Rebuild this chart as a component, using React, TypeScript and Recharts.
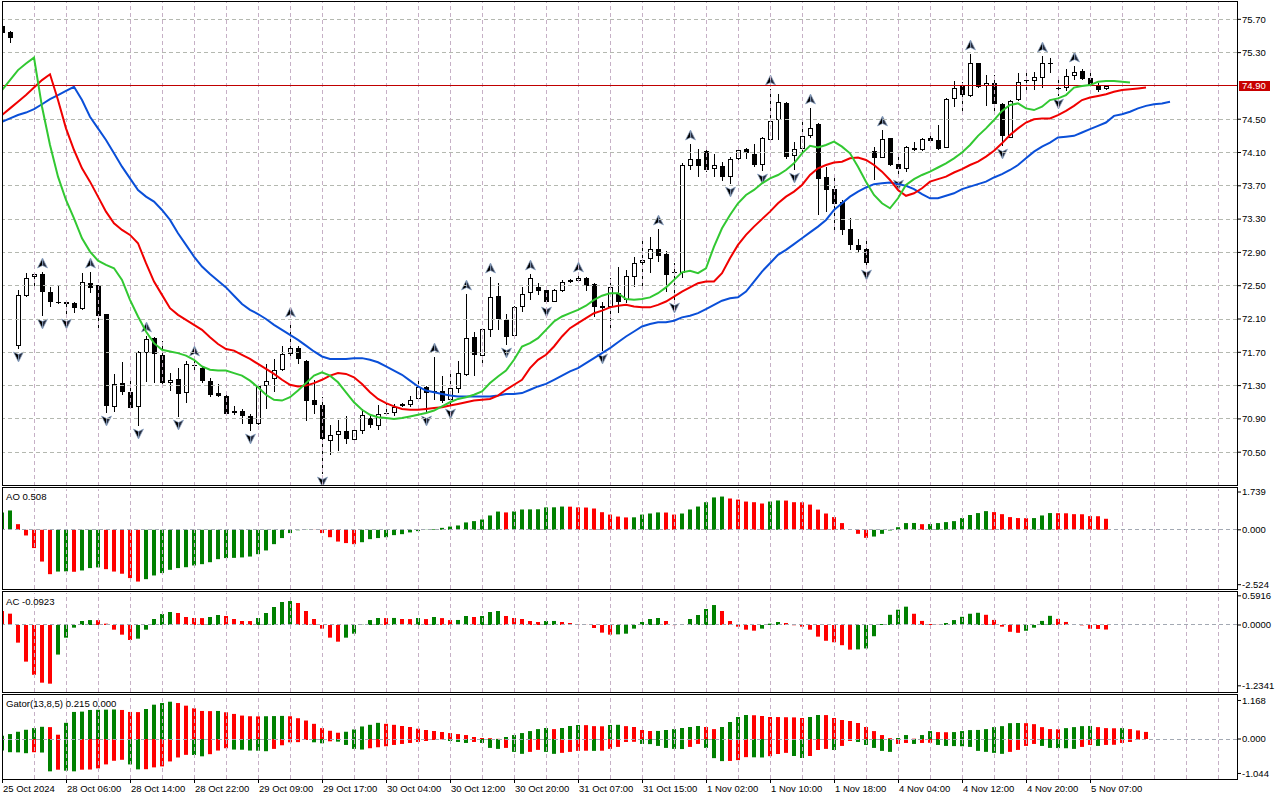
import { ComposedChart, Bar, Line, XAxis, YAxis, ReferenceLine, Cell } from 'recharts';

// hourly candles, index = bar number from the left edge
const OPEN = [75.62, 75.55, 71.77, 72.38, 72.60, 72.64, 72.42, 72.30, 72.30, 72.29,
  72.22, 72.53, 72.51, 72.16, 71.04, 71.33, 71.22, 71.04, 71.69, 71.87,
  71.67, 71.33, 71.38, 71.21, 71.55, 71.51, 71.35, 71.21, 71.18, 70.99,
  70.99, 70.94, 70.84, 71.29, 71.38, 71.49, 71.68, 71.75, 71.60, 71.13,
  71.07, 70.64, 70.71, 70.75, 70.65, 70.76, 70.91, 70.81, 70.96, 70.97,
  71.05, 71.07, 71.14, 71.28, 71.22, 71.24, 71.13, 71.26, 71.43, 71.88,
  71.66, 71.97, 72.38, 72.09, 71.89, 72.24, 72.41, 72.48, 72.45, 72.31,
  72.44, 72.54, 72.56, 72.59, 72.52, 72.26, 72.24, 72.41, 72.33, 72.61,
  72.77, 72.82, 72.94, 72.88, 72.66, 72.65, 73.94, 74.02, 74.12, 73.90,
  73.94, 73.81, 74.02, 74.14, 74.08, 73.95, 74.25, 74.49, 74.70, 74.06,
  74.14, 74.30, 74.44, 73.80, 73.66, 73.51, 73.18, 72.99, 72.94, 74.12,
  74.04, 74.27, 73.96, 73.90, 74.16, 74.13, 74.27, 74.25, 74.16, 74.74,
  74.90, 74.78, 75.17, 74.90, 74.93, 74.68, 74.28, 74.73, 74.97, 74.96,
  75.00, 75.16, 74.88, 74.87, 75.02, 75.08, 74.99, 74.91, 74.86];
const HIGH = [75.64, 75.56, 72.45, 72.65, 72.65, 72.66, 72.48, 72.50, 72.31, 72.31,
  72.65, 72.66, 72.51, 72.16, 71.44, 71.58, 71.38, 71.72, 71.89, 71.88,
  71.83, 71.45, 71.51, 71.60, 71.61, 71.53, 71.39, 71.32, 71.19, 71.05,
  71.02, 70.96, 71.32, 71.56, 71.62, 71.77, 72.08, 71.77, 71.61, 71.37,
  71.16, 70.83, 70.89, 70.93, 70.79, 71.02, 70.96, 71.07, 71.09, 71.08,
  71.09, 71.18, 71.35, 71.30, 71.64, 71.41, 71.44, 71.59, 72.40, 71.94,
  71.99, 72.60, 72.53, 72.16, 72.26, 72.48, 72.64, 72.53, 72.46, 72.46,
  72.57, 72.58, 72.62, 72.60, 72.53, 72.30, 72.59, 72.73, 72.69, 72.84,
  73.07, 73.09, 73.18, 72.92, 72.77, 73.97, 74.20, 74.14, 74.14, 74.08,
  73.99, 74.05, 74.16, 74.15, 74.20, 74.29, 74.86, 74.80, 74.71, 74.23,
  74.50, 74.63, 74.46, 73.92, 73.81, 73.53, 73.31, 73.06, 73.06, 74.17,
  74.37, 74.28, 74.08, 74.18, 74.23, 74.27, 74.35, 74.43, 74.75, 74.96,
  74.95, 75.28, 75.18, 75.03, 75.03, 74.69, 74.73, 75.06, 75.06, 75.07,
  75.26, 75.23, 74.97, 75.10, 75.14, 75.10, 75.05, 74.93, 74.91];
const LOW = [75.52, 75.41, 71.74, 72.37, 72.47, 72.14, 72.24, 72.28, 72.14, 72.17,
  72.21, 72.41, 71.99, 70.97, 70.98, 71.19, 71.02, 70.81, 71.34, 71.33,
  71.28, 71.23, 70.92, 71.09, 71.49, 71.33, 71.16, 71.16, 70.95, 70.95,
  70.84, 70.75, 70.83, 71.02, 71.22, 71.48, 71.63, 71.56, 70.88, 70.96,
  70.24, 70.47, 70.51, 70.60, 70.60, 70.72, 70.79, 70.77, 70.94, 70.94,
  71.04, 71.04, 71.10, 70.97, 71.13, 71.09, 71.06, 71.21, 71.41, 71.41,
  71.53, 71.88, 71.97, 71.79, 71.88, 72.18, 72.33, 72.39, 72.28, 72.30,
  72.43, 72.53, 72.55, 72.44, 72.12, 71.71, 71.99, 72.17, 72.29, 72.49,
  72.49, 72.65, 72.79, 72.43, 72.33, 72.59, 73.89, 73.81, 73.86, 73.81,
  73.76, 73.72, 74.01, 74.02, 73.92, 73.88, 74.24, 74.25, 74.02, 73.89,
  74.11, 74.27, 73.35, 73.39, 73.17, 73.11, 72.93, 72.90, 72.72, 73.77,
  74.03, 73.94, 73.81, 73.86, 74.115, 74.12, 74.23, 74.135, 74.15, 74.65,
  74.55, 74.77, 74.87, 74.66, 74.59, 74.18, 74.27, 74.72, 74.81, 74.85,
  74.88, 75.06, 74.78, 74.84, 74.97, 74.97, 74.90, 74.83, 74.855];
const CLOSE = [75.54, 75.48, 72.39, 72.59, 72.64, 72.43, 72.30, 72.29, 72.28, 72.23,
  72.54, 72.47, 72.14, 71.05, 71.32, 71.22, 71.03, 71.70, 71.86, 71.68,
  71.33, 71.37, 71.20, 71.56, 71.55, 71.35, 71.19, 71.17, 70.96, 70.97,
  70.93, 70.84, 71.30, 71.36, 71.49, 71.68, 71.75, 71.62, 71.12, 71.07,
  70.66, 70.71, 70.75, 70.66, 70.77, 70.95, 70.83, 70.96, 70.97, 71.04,
  71.08, 71.13, 71.28, 71.21, 71.24, 71.12, 71.27, 71.45, 71.87, 71.67,
  71.98, 72.36, 72.10, 71.88, 72.24, 72.40, 72.59, 72.44, 72.30, 72.45,
  72.54, 72.57, 72.59, 72.50, 72.25, 72.23, 72.48, 72.30, 72.62, 72.77,
  72.81, 72.94, 72.86, 72.63, 72.67, 73.95, 74.02, 73.94, 73.89, 73.95,
  73.81, 74.02, 74.13, 74.09, 73.95, 74.27, 74.48, 74.71, 74.05, 74.14,
  74.30, 74.40, 73.78, 73.65, 73.48, 73.17, 72.99, 72.93, 72.77, 74.03,
  74.26, 73.95, 73.90, 74.17, 74.125, 74.26, 74.24, 74.14, 74.74, 74.88,
  74.79, 75.17, 74.89, 74.94, 74.68, 74.30, 74.72, 74.95, 74.975, 75.01,
  75.18, 75.17, 74.87, 75.02, 75.07, 74.98, 74.91, 74.85, 74.90];

// Alligator (jaw 13/8, teeth 8/5, lips 5/3), drawn with their forward shift
const JAW = [74.47, 74.51, 74.55, 74.58, 74.62, 74.68, 74.74, 74.79, 74.84, 74.89,
  74.73, 74.53, 74.39, 74.25, 74.09, 73.93, 73.79, 73.65, 73.57, 73.51,
  73.41, 73.29, 73.13, 72.99, 72.85, 72.73, 72.64, 72.56, 72.48, 72.38,
  72.28, 72.21, 72.16, 72.10, 72.03, 71.97, 71.91, 71.85, 71.78, 71.71,
  71.65, 71.62, 71.62, 71.62, 71.63, 71.63, 71.61, 71.58, 71.53, 71.48,
  71.43, 71.36, 71.29, 71.24, 71.22, 71.20, 71.18, 71.17, 71.17, 71.17,
  71.17, 71.17, 71.18, 71.20, 71.20, 71.21, 71.25, 71.29, 71.32, 71.37,
  71.42, 71.47, 71.51, 71.57, 71.63, 71.69, 71.75, 71.82, 71.89, 71.95,
  72.01, 72.04, 72.06, 72.06, 72.08, 72.12, 72.14, 72.17, 72.22, 72.27,
  72.32, 72.35, 72.36, 72.43, 72.55, 72.67, 72.77, 72.87, 72.93, 73.00,
  73.07, 73.14, 73.21, 73.29, 73.41, 73.49, 73.57, 73.63, 73.68, 73.72,
  73.73, 73.74, 73.72, 73.70, 73.66, 73.60, 73.55, 73.55, 73.58, 73.61,
  73.66, 73.69, 73.72, 73.75, 73.80, 73.84, 73.89, 73.95, 74.03, 74.11,
  74.17, 74.22, 74.28, 74.29, 74.30, 74.34, 74.38, 74.42, 74.46, 74.54,
  74.56, 74.59, 74.63, 74.66, 74.68, 74.69, 74.71];
const TEETH = [74.55, 74.63, 74.71, 74.79, 74.88, 74.97, 75.04, 74.73, 74.39, 74.13,
  73.91, 73.75, 73.57, 73.39, 73.25, 73.17, 73.11, 73.01, 72.77, 72.55,
  72.39, 72.23, 72.15, 72.09, 72.03, 71.97, 71.88, 71.80, 71.74, 71.72,
  71.67, 71.62, 71.56, 71.50, 71.44, 71.37, 71.31, 71.29, 71.30, 71.33,
  71.37, 71.42, 71.45, 71.44, 71.40, 71.32, 71.22, 71.14, 71.09, 71.05,
  71.02, 71.01, 71.01, 71.02, 71.03, 71.04, 71.06, 71.08, 71.10, 71.12,
  71.13, 71.14, 71.18, 71.25, 71.31, 71.37, 71.51, 71.61, 71.67, 71.77,
  71.89, 71.99, 72.05, 72.11, 72.17, 72.20, 72.24, 72.26, 72.27, 72.25,
  72.24, 72.24, 72.27, 72.31, 72.37, 72.43, 72.48, 72.53, 72.55, 72.55,
  72.65, 72.83, 72.99, 73.11, 73.21, 73.30, 73.39, 73.49, 73.57, 73.63,
  73.71, 73.83, 73.91, 73.95, 73.98, 73.99, 74.03, 74.04, 74.01, 73.95,
  73.87, 73.77, 73.65, 73.58, 73.61, 73.67, 73.75, 73.78, 73.81, 73.86,
  73.90, 73.95, 73.99, 74.05, 74.12, 74.21, 74.31, 74.39, 74.46, 74.50,
  74.51, 74.51, 74.55, 74.60, 74.66, 74.73, 74.76, 74.78, 74.80, 74.83,
  74.85, 74.86, 74.87, 74.88];
const LIPS = [74.85, 74.97, 75.09, 75.17, 75.24, 74.65, 74.19, 73.81, 73.53, 73.31,
  73.07, 72.91, 72.80, 72.75, 72.71, 72.57, 72.33, 72.13, 71.95, 71.81,
  71.73, 71.71, 71.69, 71.66, 71.61, 71.53, 71.49, 71.48, 71.48, 71.45,
  71.42, 71.36, 71.28, 71.19, 71.13, 71.12, 71.16, 71.24, 71.33, 71.42,
  71.46, 71.42, 71.34, 71.22, 71.10, 71.01, 70.95, 70.92, 70.91, 70.90,
  70.91, 70.93, 70.95, 70.97, 71.00, 71.05, 71.10, 71.14, 71.16, 71.19,
  71.23, 71.33, 71.41, 71.48, 71.61, 71.77, 71.81, 71.87, 71.97, 72.07,
  72.13, 72.17, 72.21, 72.26, 72.33, 72.38, 72.41, 72.41, 72.34, 72.33,
  72.34, 72.36, 72.41, 72.48, 72.57, 72.66, 72.68, 72.65, 72.71, 72.97,
  73.19, 73.35, 73.49, 73.59, 73.65, 73.73, 73.79, 73.83, 73.89, 73.97,
  74.09, 74.18, 74.16, 74.19, 74.23, 74.17, 74.09, 73.93, 73.75, 73.59,
  73.49, 73.43, 73.55, 73.71, 73.78, 73.83, 73.87, 73.92, 73.97, 74.03,
  74.10, 74.19, 74.30, 74.39, 74.49, 74.60, 74.67, 74.69, 74.63, 74.61,
  74.65, 74.73, 74.75, 74.79, 74.88, 74.90, 74.91, 74.95, 74.96, 74.96,
  74.95, 74.94];

const UP_FRACTALS = [5, 11, 18, 24, 36, 54, 58, 61, 66, 72, 82, 86, 96, 101, 110, 121, 130, 134];
const DOWN_FRACTALS = [2, 5, 8, 13, 17, 22, 31, 40, 53, 56, 63, 68, 75, 84, 91, 95, 99, 108, 112, 125, 132];

const AO = [0.80, 0.89, 0.26, -0.26, -0.84, -1.46, -2.04, -1.92, -1.91, -1.93,
  -1.87, -1.76, -1.73, -1.81, -1.92, -2.02, -2.22, -2.38, -2.27, -2.10,
  -1.99, -1.84, -1.76, -1.72, -1.64, -1.58, -1.49, -1.35, -1.30, -1.29,
  -1.27, -1.23, -1.12, -0.95, -0.66, -0.38, -0.15, -0.02, 0.01, 0.005,
  -0.15, -0.34, -0.54, -0.61, -0.66, -0.57, -0.43, -0.38, -0.34, -0.245,
  -0.20, -0.12, -0.06, -0.01, 0.03, 0.09, 0.15, 0.20, 0.34, 0.40,
  0.475, 0.66, 0.84, 0.80, 0.845, 0.935, 0.94, 0.945, 1.03, 1.035,
  1.07, 1.065, 1.03, 1.025, 0.98, 0.81, 0.70, 0.61, 0.57, 0.575,
  0.70, 0.75, 0.80, 0.795, 0.70, 0.75, 0.935, 1.07, 1.27, 1.49,
  1.53, 1.44, 1.39, 1.30, 1.27, 1.21, 1.30, 1.35, 1.345, 1.27,
  1.265, 1.16, 0.93, 0.75, 0.585, 0.31, 0.03, -0.185, -0.37, -0.31,
  -0.185, -0.03, 0.12, 0.31, 0.315, 0.26, 0.265, 0.31, 0.355, 0.40,
  0.54, 0.68, 0.77, 0.86, 0.815, 0.72, 0.585, 0.54, 0.535, 0.54,
  0.66, 0.77, 0.765, 0.76, 0.72, 0.715, 0.63, 0.625, 0.508];
const AC = [0.284, 0.23, -0.358, -0.743, -1.01, -1.17, -1.19, -0.60, -0.257, -0.054,
  0.081, 0.10, 0.098, 0.027, -0.095, -0.196, -0.304, -0.277, -0.095, 0.122,
  0.223, 0.264, 0.243, 0.162, 0.142, 0.140, 0.162, 0.203, 0.182, 0.122,
  0.081, 0.080, 0.142, 0.243, 0.365, 0.466, 0.486, 0.446, 0.284, 0.122,
  -0.074, -0.257, -0.338, -0.257, -0.176, 0.005, 0.10, 0.142, 0.140, 0.143,
  0.122, 0.12, 0.142, 0.12, 0.162, 0.14, 0.10, 0.102, 0.182, 0.162,
  0.183, 0.264, 0.284, 0.182, 0.142, 0.122, 0.081, 0.061, 0.081, 0.082,
  0.061, 0.04, 0.007, 0.002, -0.061, -0.155, -0.196, -0.19, -0.176, -0.074,
  0.061, 0.122, 0.142, 0.081, -0.003, 0.005, 0.122, 0.203, 0.324, 0.405,
  0.284, 0.081, -0.034, -0.095, -0.115, -0.074, 0.027, 0.061, 0.04, -0.005,
  -0.034, -0.095, -0.236, -0.32, -0.35, -0.41, -0.50, -0.495, -0.476, -0.228,
  0.02, 0.207, 0.31, 0.372, 0.228, 0.083, 0.02, 0.003, 0.04, 0.10,
  0.166, 0.228, 0.248, 0.207, 0.103, -0.034, -0.138, -0.159, -0.117, -0.055,
  0.083, 0.186, 0.124, 0.062, 0.0, -0.007, -0.076, -0.08, -0.0923];
const GATOR_UP = [0.10, 0.15, 0.22, 0.28, 0.33, 0.37, 0.36, 0.13, 0.49, 0.82,
  0.83, 0.88, 0.885, 0.89, 0.895, 0.88, 0.82, 0.815, 0.91, 1.04,
  1.09, 1.13, 1.09, 1.01, 0.93, 0.85, 0.845, 0.85, 0.81, 0.76,
  0.71, 0.69, 0.685, 0.69, 0.695, 0.70, 0.69, 0.63, 0.56, 0.46,
  0.33, 0.25, 0.19, 0.22, 0.29, 0.38, 0.43, 0.49, 0.46, 0.43,
  0.394, 0.364, 0.313, 0.273, 0.242, 0.212, 0.18, 0.15, 0.12, 0.06,
  0.03, 0.025, 0.005, 0.06, 0.12, 0.18, 0.24, 0.30, 0.333, 0.30,
  0.333, 0.394, 0.424, 0.42, 0.39, 0.385, 0.424, 0.43, 0.39, 0.364,
  0.273, 0.242, 0.245, 0.273, 0.30, 0.333, 0.364, 0.394, 0.364, 0.30,
  0.364, 0.515, 0.667, 0.727, 0.72, 0.697, 0.667, 0.665, 0.66, 0.655,
  0.636, 0.667, 0.727, 0.725, 0.636, 0.576, 0.545, 0.485, 0.364, 0.24,
  0.12, 0.025, 0.03, 0.12, 0.01, 0.12, 0.24, 0.21, 0.205, 0.21,
  0.24, 0.27, 0.275, 0.30, 0.36, 0.39, 0.48, 0.485, 0.48, 0.45,
  0.36, 0.30, 0.295, 0.33, 0.36, 0.39, 0.395, 0.36, 0.33, 0.325,
  0.33, 0.30, 0.26, 0.215];
const GATOR_DOWN = [0.35, 0.40, 0.405, 0.43, 0.40, 0.41, 0.98, 0.93, 0.96, 0.98,
  0.93, 0.925, 0.89, 0.77, 0.66, 0.63, 0.77, 0.92, 0.915, 0.86,
  0.83, 0.68, 0.56, 0.48, 0.485, 0.525, 0.46, 0.35, 0.28, 0.32,
  0.325, 0.35, 0.355, 0.37, 0.30, 0.19, 0.10, 0.095, 0.03, 0.10,
  0.13, 0.07, 0.08, 0.18, 0.30, 0.32, 0.28, 0.25, 0.22, 0.18,
  0.15, 0.12, 0.09, 0.06, 0.03, 0.01, 0.06, 0.09, 0.12, 0.09,
  0.12, 0.27, 0.30, 0.27, 0.39, 0.45, 0.39, 0.33, 0.39, 0.45,
  0.42, 0.39, 0.36, 0.355, 0.36, 0.355, 0.30, 0.24, 0.09, 0.085,
  0.15, 0.155, 0.21, 0.27, 0.30, 0.305, 0.24, 0.15, 0.27, 0.58,
  0.67, 0.665, 0.64, 0.55, 0.555, 0.56, 0.52, 0.455, 0.42, 0.515,
  0.576, 0.515, 0.333, 0.30, 0.333, 0.21, 0.06, 0.09, 0.18, 0.27,
  0.36, 0.39, 0.15, 0.12, 0.15, 0.12, 0.115, 0.18, 0.21, 0.215,
  0.22, 0.24, 0.36, 0.39, 0.42, 0.45, 0.39, 0.33, 0.21, 0.15,
  0.21, 0.27, 0.275, 0.28, 0.30, 0.24, 0.18, 0.21, 0.18, 0.175,
  0.12, 0.09, 0.02];
// values of the bar just left of the visible window (sets first bar colour)
const AO_PREV = 0.75;
const AC_PREV = 0.35;
const GATOR_UP_PREV = 0.08;
const GATOR_DOWN_PREV = 0.33;

const TIME_LABELS = ['25 Oct 2024', '28 Oct 06:00', '28 Oct 14:00', '28 Oct 22:00', '29 Oct 09:00',
  '29 Oct 17:00', '30 Oct 04:00', '30 Oct 12:00', '30 Oct 20:00', '31 Oct 07:00', '31 Oct 15:00',
  '1 Nov 02:00', '1 Nov 10:00', '1 Nov 18:00', '4 Nov 04:00', '4 Nov 12:00', '4 Nov 20:00', '5 Nov 07:00'];
const PRICE_TICKS = [75.7, 75.3, 74.5, 74.1, 73.7, 73.3, 72.9, 72.5, 72.1, 71.7, 71.3, 70.9, 70.5];
const GRID_PRICES = [75.7, 75.3, 74.9, 74.5, 74.1, 73.7, 73.3, 72.9, 72.5, 72.1, 71.7, 71.3, 70.9, 70.5];
const LAST_PRICE = 74.9;
const AO_TICKS = [1.739, 0, -2.524];
const AC_TICKS = [0.5916, 0, -1.2341];
const GATOR_TICKS = [1.168, 0, -1.044];

const FONT = '"Liberation Sans", Arial, sans-serif';
const GREEN = '#008000';
const RED = '#ff0000';
const GRID = '#c6b0c6';
const X_DOMAIN: [number, number] = [0, 154.375];
const BARS_PER_LABEL = 8;
const LABEL_BARS = TIME_LABELS.map((_, k) => k * BARS_PER_LABEL);
const GRID_BARS = Array.from({ length: 38 }, (_, k) => (k + 1) * 4);
const PAD = 8; // room above each indicator plot for its top axis label

const UP_SET = new Set(UP_FRACTALS);
const DOWN_SET = new Set(DOWN_FRACTALS);

const priceRows = JAW.map((jaw, i) => ({
  i,
  o: i < OPEN.length ? OPEN[i] : null,
  h: i < HIGH.length ? HIGH[i] : null,
  l: i < LOW.length ? LOW[i] : null,
  c: i < CLOSE.length ? CLOSE[i] : null,
  jaw,
  teeth: i < TEETH.length ? TEETH[i] : null,
  lips: i < LIPS.length ? LIPS[i] : null,
}));

const indRows = GATOR_UP.map((gu, i) => ({
  i,
  ao: i < AO.length ? AO[i] : null,
  ac: i < AC.length ? AC[i] : null,
  gu,
  gd: i < GATOR_DOWN.length ? -GATOR_DOWN[i] : null,
}));

const rising = (vals: number[], prev: number, i: number) => (vals[i] > (i === 0 ? prev : vals[i - 1]) ? GREEN : RED);

const candleRange = (d: any) => (d.h == null ? null : [d.l, d.h]);

function CandleShape(props: any) {
  const { x, y, width, height, payload } = props;
  if (!payload || payload.h == null) return <g />;
  const y0 = Math.min(y, y + height);
  const y1 = Math.max(y, y + height);
  const k = (y1 - y0) / (payload.h - payload.l);
  const py = (p: number) => y0 + (payload.h - p) * k;
  const cx = Math.round(x + width / 2) + 0.5;
  const top = Math.round(py(Math.max(payload.o, payload.c)));
  const bot = Math.round(py(Math.min(payload.o, payload.c)));
  const bull = payload.c > payload.o;
  const bh = bot - top;
  let body;
  if (bh <= 1) {
    body = <line x1={cx - 2.5} x2={cx + 2.5} y1={top + 0.5} y2={top + 0.5} stroke="#000" />;
  } else if (bull) {
    body = <rect x={cx - 2} y={top + 0.5} width={4} height={bh - 1} fill="#fff" stroke="#000" />;
  } else {
    body = <rect x={cx - 2.5} y={top} width={5} height={bh} fill="#000" />;
  }
  const hy = Math.round(y0);
  const ly = Math.round(y1);
  return (
    <g>
      <g shapeRendering="crispEdges">
        <line x1={cx} x2={cx} y1={hy} y2={ly} stroke="#000" />
        {body}
      </g>
      {UP_SET.has(payload.i) && (
        <g stroke="#8ea6c8" strokeWidth={0.7}>
          <path d={`M${cx},${hy - 14} L${cx + 5},${hy - 4} L${cx},${hy - 6.5} Z`} fill="#2a3040" />
          <path d={`M${cx},${hy - 14} L${cx - 5},${hy - 4} L${cx},${hy - 6.5} Z`} fill="#000" />
        </g>
      )}
      {DOWN_SET.has(payload.i) && (
        <g stroke="#8ea6c8" strokeWidth={0.7}>
          <path d={`M${cx},${ly + 13} L${cx + 5},${ly + 3} L${cx},${ly + 5.5} Z`} fill="#2a3040" />
          <path d={`M${cx},${ly + 13} L${cx - 5},${ly + 3} L${cx},${ly + 5.5} Z`} fill="#000" />
        </g>
      )}
    </g>
  );
}

function PriceTag(props: any) {
  const vb = props.viewBox || {};
  const x = vb.x + vb.width;
  const y = vb.y;
  return (
    <g>
      <rect x={x + 2} y={y - 5} width={31} height={10} fill="#c80000" shapeRendering="crispEdges" />
      <text x={x + 5} y={y + 3.5} fill="#fff" fontSize={9.5} fontFamily={FONT}>{LAST_PRICE.toFixed(2)}</text>
    </g>
  );
}

function TimeTick(props: any) {
  const { x, y, payload } = props;
  const label = TIME_LABELS[LABEL_BARS.indexOf(payload.value)];
  const tx = Math.round(x) + 0.5;
  return (
    <g>
      <line x1={tx} x2={tx} y1={y} y2={y + 4} stroke="#000" shapeRendering="crispEdges" />
      <text x={tx + 0.5} y={y + 13} fontSize={9.5} fontFamily={FONT} fill="#000">{label}</text>
    </g>
  );
}

const tickStyle = { fontSize: 9.5, fill: '#000', fontFamily: FONT };

function vGrid(prefix: string) {
  return GRID_BARS.map((b) => (
    <ReferenceLine key={prefix + b} x={b} stroke={GRID} strokeDasharray="4 3" shapeRendering="crispEdges" />
  ));
}

function IndicatorPanel({ top, height, domain, ticks, digits, children, showTime, stack }: any) {
  return (
    <div style={{ position: 'absolute', left: 0, top: top - PAD }}>
      <ComposedChart width={1280} height={height + PAD} data={indRows} margin={{ top: PAD, right: 0, bottom: 0, left: 2 }}
        stackOffset={stack ? 'sign' : undefined}>
        {showTime ? (
          <XAxis dataKey="i" type="number" domain={X_DOMAIN} allowDataOverflow ticks={LABEL_BARS} interval={0}
            height={17} tickSize={0} tickMargin={0} axisLine={false} tickLine={false} tick={<TimeTick />} />
        ) : (
          <XAxis dataKey="i" type="number" domain={X_DOMAIN} allowDataOverflow hide />
        )}
        <YAxis orientation="right" type="number" domain={domain} allowDataOverflow ticks={ticks} interval={0}
          width={43} tickSize={4} tickMargin={1} axisLine={false} tickLine={{ stroke: '#000' }}
          tick={tickStyle} tickFormatter={(v: number) => v.toFixed(digits)} />
        {vGrid('v')}
        <ReferenceLine y={0} stroke="#a3a9b3" strokeDasharray="4 3" shapeRendering="crispEdges" />
        {children}
      </ComposedChart>
    </div>
  );
}

export default function App() {
  return (
    <div style={{ position: 'absolute', left: 0, top: 0, width: 1280, height: 800, background: '#fff', fontFamily: FONT }}>
      <div style={{ position: 'absolute', left: 0, top: 1 }}>
        <ComposedChart width={1280} height={485} data={priceRows} margin={{ top: 0, right: 0, bottom: 0, left: 2 }}>
          <XAxis dataKey="i" type="number" domain={X_DOMAIN} allowDataOverflow hide />
          <YAxis orientation="right" type="number" domain={[70.094, 75.92]} allowDataOverflow ticks={PRICE_TICKS}
            interval={0} width={43} tickSize={4} tickMargin={1} axisLine={false} tickLine={{ stroke: '#000' }}
            tick={tickStyle} tickFormatter={(v: number) => v.toFixed(2)} />
          {GRID_PRICES.map((p) => (
            <ReferenceLine key={'h' + p} y={p} stroke="#b4b8b0" strokeDasharray="4 3" shapeRendering="crispEdges" />
          ))}
          {vGrid('v')}
          <ReferenceLine y={LAST_PRICE} stroke="#c00000" shapeRendering="crispEdges" label={<PriceTag />} />
          <Bar dataKey={candleRange} barSize={6} shape={CandleShape} isAnimationActive={false} />
          <Line dataKey="jaw" type="linear" stroke="#0a4fd8" strokeWidth={2} dot={false} activeDot={false} isAnimationActive={false} />
          <Line dataKey="teeth" type="linear" stroke="#f00000" strokeWidth={2} dot={false} activeDot={false} isAnimationActive={false} />
          <Line dataKey="lips" type="linear" stroke="#32c832" strokeWidth={2} dot={false} activeDot={false} isAnimationActive={false} />
        </ComposedChart>
      </div>

      <IndicatorPanel top={489} height={100} domain={[-2.722, 1.877]} ticks={AO_TICKS} digits={3}>
        <Bar dataKey="ao" barSize={4} isAnimationActive={false}>
          {indRows.map((r) => <Cell key={r.i} fill={r.ao == null ? 'none' : rising(AO, AO_PREV, r.i)} />)}
        </Bar>
      </IndicatorPanel>

      <IndicatorPanel top={593} height={99} domain={[-1.359, 0.649]} ticks={AC_TICKS} digits={4}>
        <Bar dataKey="ac" barSize={4} isAnimationActive={false}>
          {indRows.map((r) => <Cell key={r.i} fill={r.ac == null ? 'none' : rising(AC, AC_PREV, r.i)} />)}
        </Bar>
      </IndicatorPanel>

      <IndicatorPanel top={696} height={100} domain={[-1.212, 1.303]} ticks={GATOR_TICKS} digits={3} showTime stack>
        <Bar dataKey="gu" stackId="g" barSize={4} isAnimationActive={false}>
          {indRows.map((r) => <Cell key={r.i} fill={rising(GATOR_UP, GATOR_UP_PREV, r.i)} />)}
        </Bar>
        <Bar dataKey="gd" stackId="g" barSize={4} isAnimationActive={false}>
          {indRows.map((r) => <Cell key={r.i} fill={r.gd == null ? 'none' : rising(GATOR_DOWN, GATOR_DOWN_PREV, r.i)} />)}
        </Bar>
      </IndicatorPanel>

      <svg width={1280} height={800} style={{ position: 'absolute', left: 0, top: 0, pointerEvents: 'none' }}>
        <g fill="none" stroke="#000" shapeRendering="crispEdges">
          <rect x={2.5} y={1.5} width={1235} height={484} />
          <rect x={2.5} y={487.5} width={1235} height={102} />
          <rect x={2.5} y={591.5} width={1235} height={101} />
          <rect x={2.5} y={694.5} width={1235} height={85} />
        </g>
        <g fontFamily={FONT} fontSize={9.6} fill="#000">
          <text x={6} y={500}>AO 0.508</text>
          <text x={6} y={605}>AC -0.0923</text>
          <text x={6} y={707}>Gator(13,8,5) 0.215 0.000</text>
        </g>
      </svg>
    </div>
  );
}
